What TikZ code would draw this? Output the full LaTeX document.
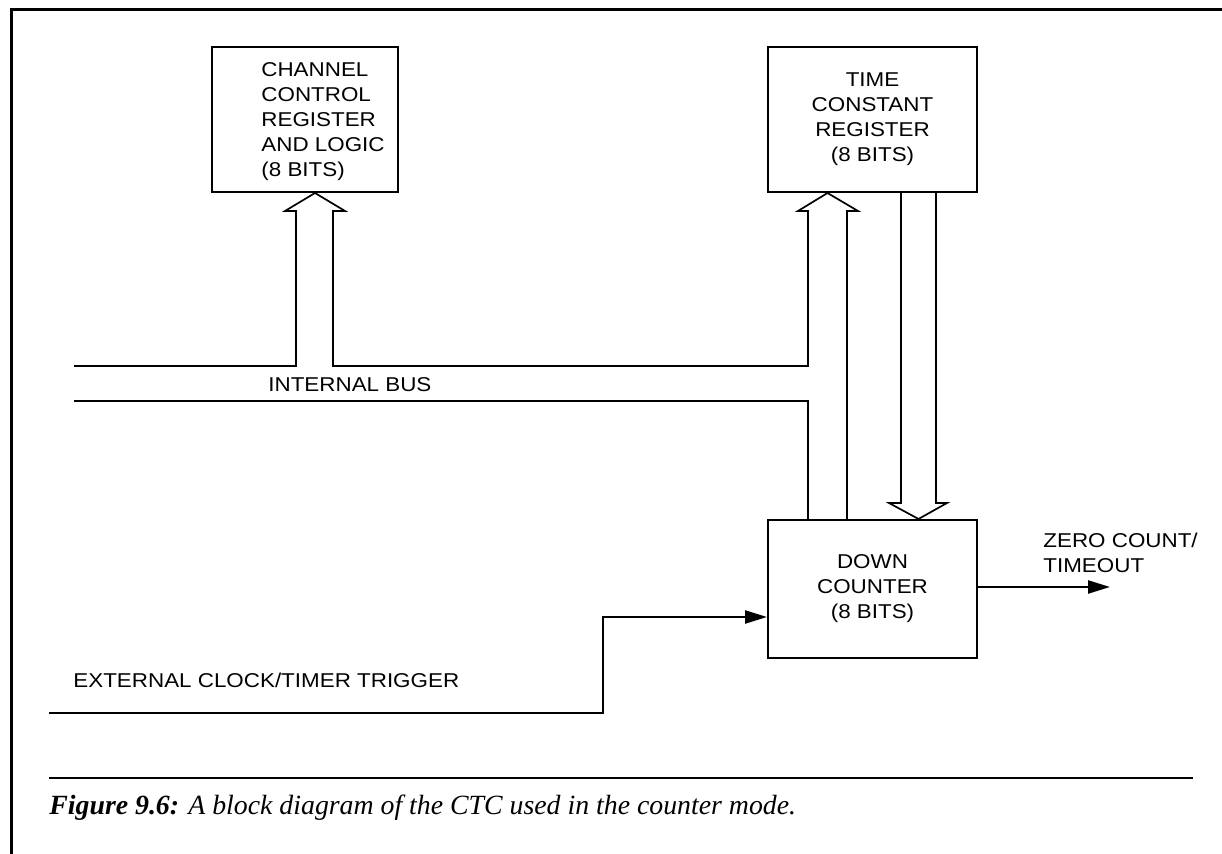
\documentclass[tikz,border=0pt]{standalone}
\usepackage{fontspec}
\setmainfont{Liberation Serif}
\newfontfamily\diagfont[FakeStretch=1.12]{Liberation Sans}
\usetikzlibrary{arrows.meta}

\begin{document}
\begin{tikzpicture}[x=0.5pt, y=-0.5pt,
    block/.style={draw, line width=1pt, inner sep=0pt},
    bus/.style={line width=0.85pt, line join=miter},
    sig/.style={line width=1.2pt, -{Triangle[length=11pt, width=6.5pt]}},
    lbl/.style={font=\diagfont\fontsize{10}{12.5}\selectfont, inner sep=0pt}]

    \useasboundingbox (0,0) rectangle (1222,854);

    % ==========================================
    % FRAME: page border (left and top edges)
    % ==========================================
    \draw[line width=1.5pt] (11.5,854) -- (11.5,10) -- (1222,10);

    % ==========================================
    % BLOCKS: registers and down counter
    % ==========================================
    \node[block, minimum width=93pt, minimum height=72.5pt] (ccr) at (305,119.5) {};
    \node[lbl, align=left, anchor=west] (ccrtext) at (261,122)
        {CHANNEL\\CONTROL\\REGISTER\\AND LOGIC\\(8 BITS)};

    \node[block, lbl, align=center, minimum width=104.5pt, minimum height=72.5pt]
        (tcr) at (872.5,119.5) {TIME\\CONSTANT\\REGISTER\\(8 BITS)};

    \node[block, lbl, align=center, minimum width=104.5pt, minimum height=69pt]
        (dc) at (872.5,589) {DOWN\\COUNTER\\(8 BITS)};

    % ==========================================
    % INTERNAL BUS: hollow arrows up into both registers
    % ==========================================
    \draw[bus] (74,366) -- (296,366) -- (296,211) -- (285,211) -- ([xshift=5pt]ccr.south)
        -- (345,211) -- (333,211) -- (333,366) -- (808,366) -- (808,211) -- (798,211)
        -- ([xshift=-22.5pt]tcr.south) -- (858,211) -- (847,211) -- (847,0 |- dc.north);
    \draw[bus] (74,401) -- (808,401) -- (808,0 |- dc.north);

    % Hollow arrow down: time constant into the counter
    \draw[bus] (901,0 |- tcr.south) -- (901,503) -- (889,503) -- ([xshift=23pt]dc.north)
        -- (947,503) -- (936,503) -- (936,0 |- tcr.south);

    \node[lbl, anchor=base west] (busl) at (268,392) {INTERNAL BUS};

    % ==========================================
    % SIGNALS: clock in, zero count out
    % ==========================================
    \coordinate (clkin) at (49,713);
    \draw[sig] (clkin) -- (603,713) -- (603,617) -- ([yshift=-14pt]dc.west);
    \node[lbl, anchor=base west] (clkl) at (73,688) {EXTERNAL CLOCK/TIMER TRIGGER};

    \coordinate (zcout) at (1110,587);
    \draw[sig] ([yshift=1pt]dc.east) -- (zcout);
    \node[lbl, anchor=south west, align=left] (zcl) at (1043,573) {ZERO COUNT/\\TIMEOUT};

    % ==========================================
    % CAPTION
    % ==========================================
    \draw[line width=0.9pt] (49,778) -- (1193,778);
    \node[anchor=base west, inner sep=0pt, font=\fontsize{13.9}{16}\selectfont\itshape]
        (cap) at (49,815) {\textbf{Figure 9.6:} A block diagram of the CTC used in the counter mode.};

\end{tikzpicture}
\end{document}
